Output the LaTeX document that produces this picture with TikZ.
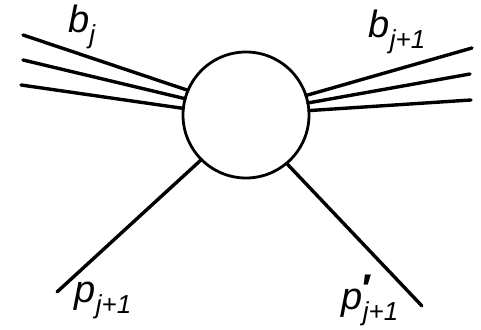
\documentclass[tikz,border=0pt]{standalone}
\usepackage{fontspec}
\setmainfont{Liberation Sans}
\newcommand{\lbl}[2]{\textit{#1}\raisebox{-0.55ex}{\fontsize{13}{15}\selectfont\textit{#2}}}
\newcommand{\lblp}[2]{\textit{#1}\rlap{\raisebox{0.35ex}{\fontsize{20}{22}\selectfont\bfseries\char"2032}}\raisebox{-0.55ex}{\fontsize{13}{15}\selectfont\textit{#2}}}
\begin{document}
\begin{tikzpicture}[x=0.5pt,y=-0.5pt,
  leg/.style={line width=1.7pt,line cap=round},
  blob/.style={draw,circle,line width=1.4pt,minimum size=63pt,inner sep=0pt,outer sep=0pt},
  lab/.style={font=\fontsize{19}{22}\selectfont,inner sep=0pt}]
\useasboundingbox (0,0) rectangle (481,330);
\node[blob] (c) at (246,115) {};
\coordinate (l1) at (23,35);
\coordinate (l2) at (23,60);
\coordinate (l3) at (21,85);
\coordinate (r1) at (472,48);
\coordinate (r2) at (470,74);
\coordinate (r3) at (471,100);
\coordinate (bl) at (57,292);
\coordinate (br) at (422,306);
\draw[leg] (l1) -- (c.157);
\draw[leg] (l2) -- (c.165);
\draw[leg] (l3) -- (c.174);
\draw[leg] (r1) -- (c.18);
\draw[leg] (r2) -- (c.11);
\draw[leg] (r3) -- (c.4);
\draw[leg] (bl) -- (c.225);
\draw[leg] (br) -- (c.310);
\node[lab] (tbj) at (82,27) {\lbl{b}{j}};
\node[lab] (tbj1) at (397,32) {\lbl{b}{j+1}};
\node[lab] (tp) at (103,300) {\lbl{p}{j+1}};
\node[lab] (tpp) at (370,300) {\lblp{p}{j+1}};
\end{tikzpicture}
\end{document}
